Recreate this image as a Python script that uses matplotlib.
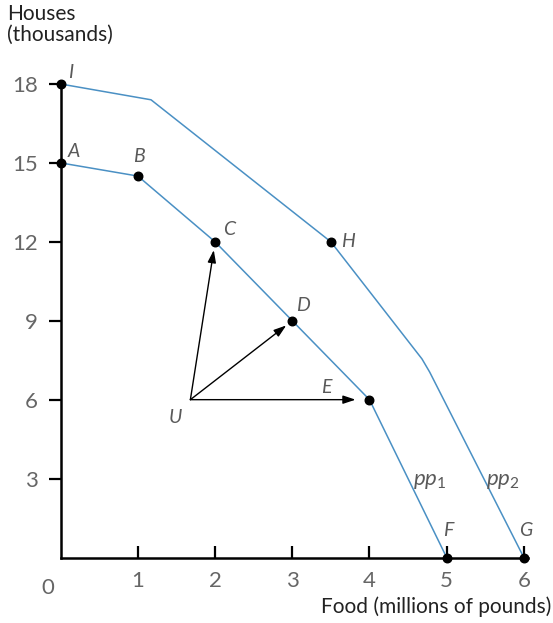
import matplotlib
matplotlib.use("Agg")
import matplotlib.pyplot as plt

plt.rcParams['font.family'] = ['Lato', 'DejaVu Sans']
plt.rcParams['mathtext.fontset'] = 'custom'
plt.rcParams['mathtext.it'] = 'Lato:italic'
plt.rcParams['mathtext.rm'] = 'Lato'

# production possibility frontier pp1 (A..F)
pp1_food = [0, 1, 2, 3, 4, 5]
pp1_houses = [15, 14.5, 12, 9, 6, 0]
pp1_names = ['A', 'B', 'C', 'D', 'E', 'F']

# outer frontier pp2 (I, H, G plus bend points)
pp2_food = [0, 1.17, 3.5, 4.68, 4.78, 6]
pp2_houses = [18, 17.4, 12, 7.55, 7.05, 0]
pp2_marked = [0, 2, 5]
pp2_names = ['I', 'H', 'G']

# inefficient point U and the moves it can make
u_point = (1.68, 6)
arrow_targets = ['C', 'D', 'E']
arrow_shrink = [6, 5.5, 10]

x_ticks = [1, 2, 3, 4, 5, 6]
y_ticks = [3, 6, 9, 12, 15, 18]

blue = '#4a90c4'
grey = '#5a5a5a'
tick_grey = '#666666'

fig = plt.figure(figsize=(5.53, 6.23), dpi=100)
ax = fig.add_axes([60.7 / 553, 65.5 / 623, 467.0 / 553, 473.5 / 623])

ax.plot(pp1_food, pp1_houses, color=blue, lw=1.1, zorder=2)
ax.plot(pp2_food, pp2_houses, color=blue, lw=1.1, zorder=2)

ax.scatter(pp1_food, pp1_houses, s=38, color='black', zorder=4, clip_on=False)
ax.scatter([pp2_food[i] for i in pp2_marked], [pp2_houses[i] for i in pp2_marked],
           s=38, color='black', zorder=4, clip_on=False)

# arrows from U
for name, shr in zip(arrow_targets, arrow_shrink):
    k = pp1_names.index(name)
    ax.annotate('', xy=(pp1_food[k], pp1_houses[k]), xytext=u_point,
                arrowprops=dict(arrowstyle='-|>,head_length=0.75,head_width=0.25',
                                color='black', lw=1.0, shrinkA=0, shrinkB=shr),
                zorder=3)

# point labels (offsets in points)
label_style = dict(fontsize=14, style='italic', color=grey)
pp1_offsets = {'A': (5, 2), 'B': (1, 8), 'C': (6, 3), 'D': (3, 5), 'E': (-35, 3), 'F': (1, 13)}
for name, fx, hy in zip(pp1_names, pp1_food, pp1_houses):
    dx, dy = pp1_offsets[name]
    ha = 'center' if name in ('B', 'F') else 'left'
    ax.annotate(name, (fx, hy), xytext=(dx, dy), textcoords='offset points',
                ha=ha, va='bottom', **label_style)
pp2_offsets = {'I': (5, 2), 'H': (7, -6), 'G': (1, 13)}
for name, i in zip(pp2_names, pp2_marked):
    dx, dy = pp2_offsets[name]
    ha = 'center' if name == 'G' else 'left'
    ax.annotate(name, (pp2_food[i], pp2_houses[i]), xytext=(dx, dy),
                textcoords='offset points', ha=ha, va='bottom', **label_style)
ax.annotate('U', u_point, xytext=(-11, -13), textcoords='offset points',
            ha='center', va='center', **label_style)

ax.text(4.78, 2.75, r'$pp_1$', fontsize=16, color=grey, ha='center')
ax.text(5.73, 2.75, r'$pp_2$', fontsize=16, color=grey, ha='center')

ax.set_xlim(0, 6.05)
ax.set_ylim(0, 18)
ax.set_xticks(x_ticks)
ax.set_yticks(y_ticks)
ax.tick_params(axis='x', direction='in', length=9, width=1.6, pad=10,
               labelsize=16, labelcolor=tick_grey)
ax.tick_params(axis='y', direction='out', length=8.5, width=1.6, pad=8,
               labelsize=16, labelcolor=tick_grey)

for side in ('top', 'right'):
    ax.spines[side].set_visible(False)
for side in ('left', 'bottom'):
    ax.spines[side].set_linewidth(1.8)

ax.annotate('0', (0, 0), xytext=(-9, -15), textcoords='offset points',
            ha='center', va='top', fontsize=16, color=tick_grey)

fig.text(7 / 553, 1 - 4 / 623, 'Houses\n(thousands)', ha='left', va='top',
         fontsize=15, color='#222222', linespacing=1.05)
fig.text(551 / 553, 1 - 607 / 623, 'Food (millions of pounds)', ha='right',
         va='center', fontsize=15, color='#222222')

fig.savefig('out.png', dpi=100)
